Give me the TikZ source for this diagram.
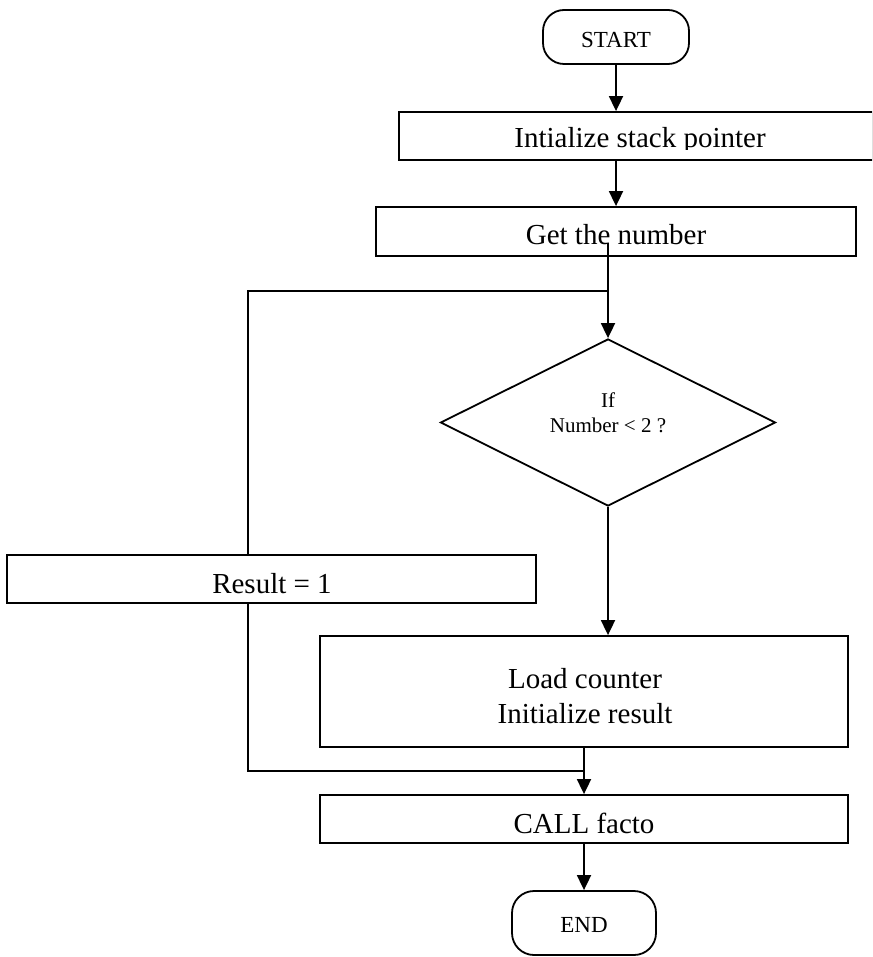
\documentclass[tikz,border=0pt]{standalone}
\usepackage{fontspec}
\setmainfont{Liberation Serif}
\usetikzlibrary{arrows.meta,shapes.geometric}
\begin{document}
\begin{tikzpicture}[x=1pt,y=-1pt,
  box/.style={draw,line width=1.8pt,inner sep=0pt,minimum height=48pt},
  term/.style={draw,line width=1.8pt,rounded corners=21pt,inner sep=0pt},
  txt/.style={anchor=base,inner sep=0pt,font=\fontsize{29}{35}\selectfont},
  termtxt/.style={anchor=base,inner sep=0pt,font=\fontsize{23}{27}\selectfont},
  dectxt/.style={anchor=base,inner sep=0pt,font=\fontsize{21}{25}\selectfont},
  flow/.style={line width=1.8pt,-{Triangle[width=14pt,length=15pt]}},
  link/.style={line width=1.8pt}]
\clip (0,0) rectangle (872,957);

% terminator: start
\node[term,minimum width=146pt,minimum height=54pt] (start) at (616,37) {};
\node[termtxt] (startT) at (616,48) {START};

% stack pointer box (its label is cut along the baseline)
\node[box,minimum width=474pt] (init) at (636,136) {};
\begin{scope}
  \clip (380,100) rectangle (872,149.5);
  \node[txt] (initT) at (640,148) {Intialize stack pointer};
\end{scope}

% read the number
\node[box,minimum width=480pt,minimum height=49pt] (get) at (616,231.5) {};
\node[txt] (getT) at (616,245) {Get the number};

% decision
\node[draw,diamond,line width=1.8pt,minimum width=335pt,minimum height=167pt,inner sep=0pt] (test) at (608,422.5) {};
\node[dectxt] (testA) at (608,407) {If};
\node[dectxt] (testB) at (608,432) {Number < 2 ?};

% result = 1 branch
\node[box,minimum width=529pt] (res) at (271.5,579) {};
\node[txt] (resT) at (272,593) {Result = 1};

% counter set-up
\node[box,minimum width=528pt,minimum height=111pt] (load) at (584,691.5) {};
\node[txt] (loadA) at (585,688) {Load counter};
\node[txt] (loadB) at (585,723) {Initialize result};

% call
\node[box,minimum width=528pt] (call) at (584,819) {};
\node[txt] (callT) at (584,833) {CALL facto};

% terminator: end
\node[term,minimum width=144pt,minimum height=64pt,rounded corners=22pt] (finish) at (584,923) {};
\node[termtxt] (finishT) at (584,932) {END};

% connectors
\coordinate (gout) at (608,243);
\coordinate (jtop) at (608,291);
\coordinate (jbot) at (584,771);
\coordinate (lx) at (248,0);

\draw[flow] (start.south) -- (start.south |- init.north);
\draw[flow] (init.south -| get.north) -- (get.north);
\draw[flow] (gout) -- (test.north);
\draw[link] (res.north -| lx) |- (jtop);
\draw[flow] (test.south) -- (test.south |- load.north);
\draw[link] (res.south -| lx) |- (jbot);
\draw[flow] (load.south) -- (call.north);
\draw[flow] (call.south) -- (finish.north);
\end{tikzpicture}
\end{document}
